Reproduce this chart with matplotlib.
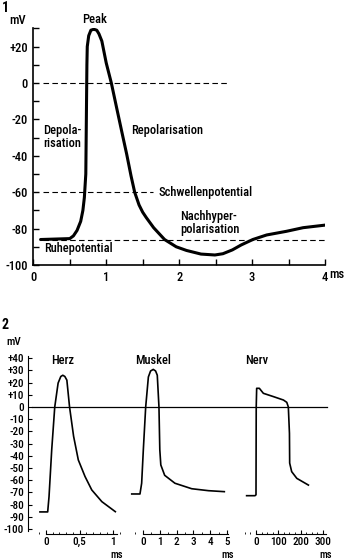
import matplotlib
matplotlib.use("Agg")
import matplotlib.pyplot as plt
from matplotlib import font_manager
from matplotlib.ticker import MultipleLocator

# --- data -------------------------------------------------------------
# 1: nerve action potential (time in ms, membrane potential in mV)
ap_t = [0.1, 0.5, 0.55, 0.6, 0.65, 0.68, 0.7, 0.72, 0.725, 0.73, 0.735, 0.74,
        0.76, 0.79, 0.83, 0.87, 0.9, 0.94, 1.0, 1.07, 1.15, 1.22, 1.28, 1.34,
        1.39, 1.45, 1.5, 1.55, 1.65, 1.8, 1.96, 2.1, 2.3, 2.49, 2.6, 2.73,
        2.85, 3.01, 3.2, 3.47, 3.7, 4.02]
ap_mv = [-86, -85.5, -84, -81, -76, -70, -63, -50, -30, -10, 10, 20,
         26, 29, 29.5, 29, 27, 23, 11, 0, -15, -28, -39, -51,
         -60, -67, -71, -74, -79.5, -86, -90, -92, -94, -94.5, -93.8, -91.7,
         -89, -86, -83.5, -81.5, -79.5, -78]
rest_mv = -86
threshold_mv = -60

# 2: action potentials of heart, skeletal muscle and nerve
herz_t = [-0.09, 0.025, 0.045, 0.085, 0.13, 0.18, 0.22, 0.25, 0.28, 0.31,
          0.35, 0.41, 0.48, 0.58, 0.68, 0.83, 1.03]
herz_mv = [-86, -86, -73.5, -35, 0, 19.6, 25, 26, 25, 22,
           0, -24, -43.4, -57, -68, -77.6, -85.8]
muskel_t = [-0.67, -0.18, -0.08, 0.02, 0.16, 0.32, 0.45, 0.61, 0.75, 0.85,
            0.95, 1.0, 1.06, 1.29, 1.9, 2.9, 3.9, 4.84]
muskel_mv = [-71.3, -71.3, -62.5, -35, 0, 24.6, 29.5, 30.8, 29.5, 26,
             0, -35, -47.5, -56, -62.5, -67, -68.6, -69.4]
nerv_t = [-42, -4.5, 0, 1, 3, 15, 33, 78, 123, 138, 145, 150, 151, 160, 183, 235]
nerv_mv = [-72.7, -72.7, -72, 0, 15.3, 15.3, 11.2, 8.5, 5.7, 3.8, 0, -21.6,
           -46, -53, -58.5, -64]

y1_ticks = [-100, -80, -60, -40, -20, 0, 20]
y1_labels = ["-100", "-80", "-60", "-40", "-20", "0", "+20"]
y2_ticks = list(range(-100, 41, 10))
y2_labels = [("+%d" % v if v > 0 else str(v)) for v in y2_ticks]

# --- font: prefer a narrow sans if one is there ------------------------
names = {f.name for f in font_manager.fontManager.ttflist}
stretch = "normal"
family = "DejaVu Sans"
for cand in ["Liberation Sans Narrow", "Roboto Condensed", "Open Sans Condensed"]:
    if cand in names:
        family = cand
        break
else:
    if any("Condensed" in f.fname and f.name == "DejaVu Sans"
           for f in font_manager.fontManager.ttflist):
        stretch = "condensed"
plt.rcParams["font.family"] = [family, "DejaVu Sans"]
plt.rcParams["font.stretch"] = stretch
plt.rcParams["font.weight"] = "medium"
narrow = family != "DejaVu Sans" or stretch == "condensed"
fs = 9 if narrow else 7.4
fs2 = 8 if narrow else 6.6

# --- figure -----------------------------------------------------------
W, H = 346, 560
fig = plt.figure(figsize=(W / 100, H / 100), dpi=100)


def box(x0, x1, y0, y1):
    # pixel box -> figure fraction [left, bottom, width, height]
    return [x0 / W, 1 - y1 / H, (x1 - x0) / W, (y1 - y0) / H]


# panel 1
ax1 = fig.add_axes(box(33.3, 325, 28, 265))
ax1.plot(ap_t, ap_mv, color="black", lw=2.2, solid_capstyle="round",
         solid_joinstyle="round", zorder=3)
for lvl, x0, x1 in [(0, 0.13, 2.65), (threshold_mv, 0.13, 1.64), (rest_mv, 0.13, 4.0)]:
    ax1.plot([x0, x1], [lvl, lvl], color="black", lw=0.8, dashes=(5, 3))
ax1.set_xlim(0, 4)
ax1.set_ylim(-100, 30.2)
ax1.spines[["top", "right"]].set_visible(False)
ax1.spines["left"].set_linewidth(1.2)
ax1.spines["bottom"].set_linewidth(1.2)
ax1.set_xticks([0, 1, 2, 3, 4])
ax1.xaxis.set_minor_locator(MultipleLocator(0.5))
ax1.set_yticks(y1_ticks, y1_labels)
ax1.yaxis.set_minor_locator(MultipleLocator(10))
ax1.tick_params(which="both", direction="in", length=4, width=1, labelsize=fs, pad=4)

ax1.text(0.84, 34.6, "Peak", ha="center", va="center", fontsize=fs, clip_on=False)
ax1.text(0.13, -29.5, "Depola-\nrisation", ha="left", va="center", fontsize=fs,
         linespacing=1.0)
ax1.text(1.34, -26, "Repolarisation", ha="left", va="center", fontsize=fs)
ax1.text(1.71, -60, "Schwellenpotential", ha="left", va="center", fontsize=fs)
ax1.text(2.01, -77, "Nachhyper-\npolarisation", ha="left", va="center",
         fontsize=fs, linespacing=1.0)
ax1.text(0.15, -90.7, "Ruhepotential", ha="left", va="center", fontsize=fs)

fig.text(5 / W, 1 - 8 / H, "1", fontsize=10, fontweight="bold", ha="center", va="center")
fig.text(18 / W, 1 - 20 / H, "mV", fontsize=fs, ha="center", va="center")
fig.text(337 / W, 1 - 275 / H, "ms", fontsize=fs, ha="center", va="center")

# panel 2
y2 = (-104.1, 42.6)
ax2 = fig.add_axes(box(28, 330, 355, 534))
ax2.set_xlim(0, 1)
ax2.set_ylim(*y2)
ax2.axhline(0, xmin=4 / 302, xmax=299 / 302, color="black", lw=0.9)
ax2.spines[["top", "right", "bottom"]].set_visible(False)
ax2.spines["left"].set_bounds(-102, 42)
ax2.set_xticks([])
ax2.set_yticks(y2_ticks, y2_labels)
ax2.tick_params(axis="y", direction="in", length=3, width=0.8, labelsize=fs2, pad=3)
fig.text(5 / W, 1 - 325 / H, "2", fontsize=10, fontweight="bold", ha="center", va="center")
fig.text(14 / W, 1 - 342 / H, "mV", fontsize=fs2, ha="center", va="center")

subs = [
    ("Herz", herz_t, herz_mv, 46, 67.3, (-0.15, 1.1), (0, 1.05), [0, 0.5, 1],
     ["0", "0,5", "1"], 0.1),
    ("Muskel", muskel_t, muskel_mv, 143, 16.8, (-0.8, 5.2), (0, 5.05), [0, 1, 2, 3, 4, 5],
     ["0", "1", "2", "3", "4", "5"], 0.5),
    ("Nerv", nerv_t, nerv_mv, 256, 0.223, (-50, 320), (0, 312), [0, 100, 200, 300],
     ["0", "100", "200", "300"], 25),
]
for name, t, mv, x0, s, xl, bnd, ticks, labels, minor in subs:
    ax = fig.add_axes(box(x0 + xl[0] * s, x0 + xl[1] * s, 355, 534))
    ax.patch.set_visible(False)
    ax.plot(t, mv, color="black", lw=1.2)
    ax.set_xlim(*xl)
    ax.set_ylim(*y2)
    ax.spines[["top", "right", "left"]].set_visible(False)
    ax.spines["bottom"].set_bounds(*bnd)
    ax.spines["bottom"].set_linewidth(0.8)
    ax.set_yticks([])
    ax.set_xticks(ticks, labels)
    ax.xaxis.set_minor_locator(MultipleLocator(minor))
    ax.tick_params(axis="x", which="major", direction="in", length=3, width=0.8,
                   labelsize=fs2, pad=2)
    ax.tick_params(axis="x", which="minor", direction="in", length=1.5, width=0.6)
    ax.text(t[mv.index(max(mv))], 38.5, name, ha="center", va="center", fontsize=fs)
    ax.text(bnd[1], -125, "ms", ha="center", va="bottom", fontsize=7.5,
            clip_on=False)

fig.savefig("out.png", dpi=100)
